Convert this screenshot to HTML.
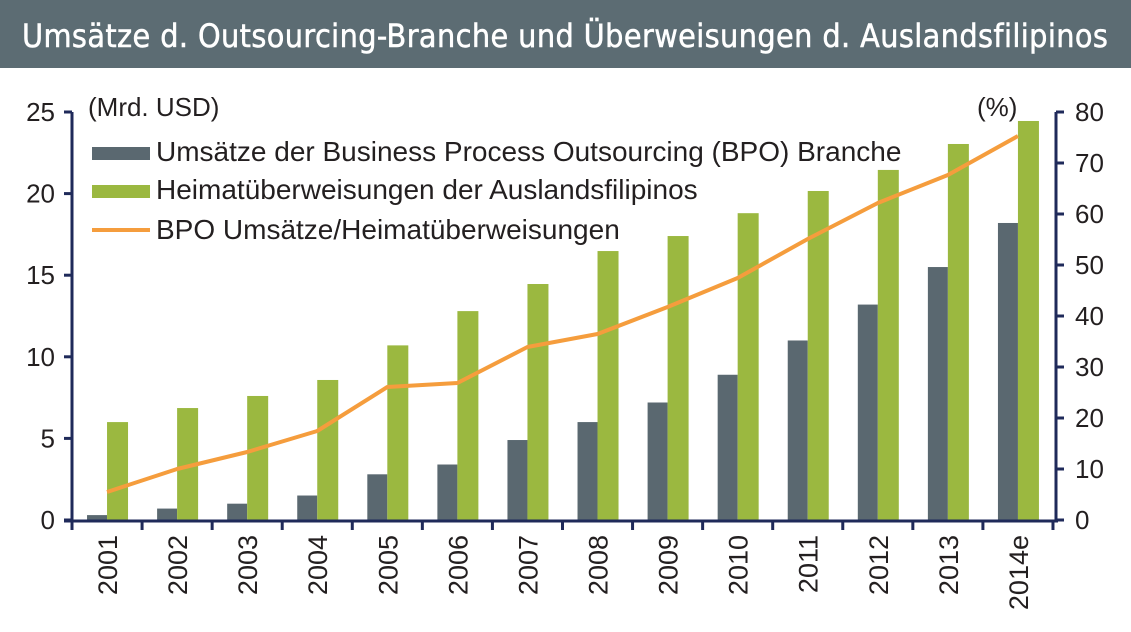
<!DOCTYPE html>
<html><head><meta charset="utf-8"><style>
body{margin:0;background:#fff;}
svg text{font-family:"Liberation Sans",Arial,sans-serif;fill:#231f20;}
</style></head><body>
<svg width="1131" height="627" xmlns="http://www.w3.org/2000/svg">
<rect x="0" y="0" width="1131" height="68" fill="#5c6c73"/>
<text x="22" y="47" style="font-size:32px;fill:#fff;stroke:#fff;stroke-width:0.5px;letter-spacing:0.4px;font-family:'DejaVu Sans Condensed','Liberation Sans',sans-serif">Umsätze d. Outsourcing-Branche und Überweisungen d. Auslandsfilipinos</text>
<g id="bars"></g>
<polyline id="ln" fill="none" stroke="#f59d3d" stroke-width="4" stroke-linejoin="round"/>
<g stroke="#1f2a5a" stroke-width="3">
<line x1="72" y1="112" x2="72" y2="522"/>
<line x1="1056" y1="112" x2="1056" y2="522"/>
<line x1="64" y1="521" x2="1058" y2="521"/>
</g>
<g id="ax"></g>
<text x="88" y="116" style="font-size:26px">(Mrd. USD)</text>
<text x="977" y="116" style="font-size:26px">(%)</text>
<rect x="92" y="147" width="58" height="13" fill="#5a6870"/>
<text x="156" y="161" style="font-size:28px">Umsätze der Business Process Outsourcing (BPO) Branche</text>
<rect x="92" y="185" width="58" height="13" fill="#9bb840"/>
<text x="156" y="199" style="font-size:28px">Heimatüberweisungen der Auslandsfilipinos</text>
<line x1="92" y1="230" x2="150" y2="230" stroke="#f59d3d" stroke-width="4"/>
<text x="156" y="239" style="font-size:28px">BPO Umsätze/Heimatüberweisungen</text>
</svg>
<script>
var g=[0.3,0.7,1.0,1.5,2.8,3.4,4.9,6.0,7.2,8.9,11.0,13.2,15.5,18.2];
var h=[6.0,6.86,7.6,8.58,10.7,12.8,14.46,16.48,17.4,18.8,20.16,21.45,23.04,24.45];
var l=[492,469,452,431,387,383,347,334,307,278,239,203,175,136];
var yrs=["2001","2002","2003","2004","2005","2006","2007","2008","2009","2010","2011","2012","2013","2014e"];
var NS="http://www.w3.org/2000/svg",b=document.getElementById('bars'),ax=document.getElementById('ax');
function el(t,a,p,txt){var e=document.createElementNS(NS,t);for(var k in a)e.setAttribute(k,a[k]);if(txt)e.textContent=txt;p.appendChild(e);return e;}
var pts=[],w=70.07,x0=72;
for(var i=0;i<14;i++){var c=x0+(i+0.5)*w;
el('rect',{x:c-20,y:520-g[i]*16.32,width:20,height:g[i]*16.32,fill:'#5a6870'},b);
el('rect',{x:c,y:520-h[i]*16.32,width:21,height:h[i]*16.32,fill:'#9bb840'},b);
pts.push(c+','+l[i]);
el('text',{x:0,y:0,'text-anchor':'end',transform:'translate('+(c+10)+',535) rotate(-90)',style:'font-size:27px'},ax,yrs[i]);
}
for(var i=0;i<=14;i++){el('line',{x1:x0+i*w,y1:521,x2:x0+i*w,y2:530,stroke:'#1f2a5a','stroke-width':3},ax);}
document.getElementById('ln').setAttribute('points',pts.join(' '));
for(var v=0;v<=25;v+=5){var y=520-v*16.32;el('line',{x1:64,y1:y,x2:72,y2:y,stroke:'#1f2a5a','stroke-width':3},ax);
el('text',{x:55,y:y+9,'text-anchor':'end',style:'font-size:26px'},ax,String(v));}
for(var v=0;v<=80;v+=10){var y=520-v*5.1;el('line',{x1:1056,y1:y,x2:1064,y2:y,stroke:'#1f2a5a','stroke-width':3},ax);
el('text',{x:1075,y:y+9,style:'font-size:26px'},ax,String(v));}
</script>
</body></html>
